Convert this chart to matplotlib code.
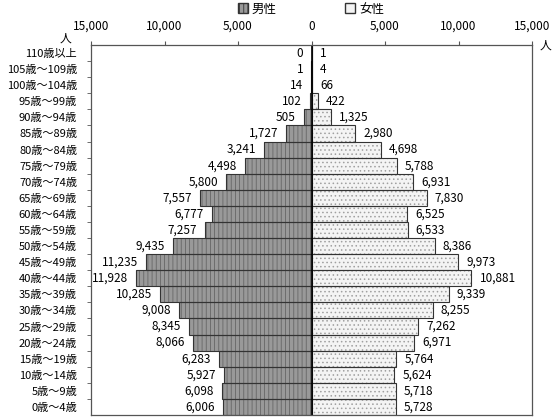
"""
Population pyramid by 5-year age group (male / female).
"""

import matplotlib
matplotlib.use("Agg")
import matplotlib.pyplot as plt
from matplotlib.patches import Patch

plt.rcParams["font.family"] = ["Noto Sans CJK JP", "DejaVu Sans"]
plt.rcParams["hatch.linewidth"] = 0.6

# top to bottom
age_groups = [
    "110歳以上", "105歳～109歳", "100歳～104歳", "95歳～99歳", "90歳～94歳",
    "85歳～89歳", "80歳～84歳", "75歳～79歳", "70歳～74歳", "65歳～69歳",
    "60歳～64歳", "55歳～59歳", "50歳～54歳", "45歳～49歳", "40歳～44歳",
    "35歳～39歳", "30歳～34歳", "25歳～29歳", "20歳～24歳", "15歳～19歳",
    "10歳～14歳", "5歳～9歳", "0歳～4歳",
]
male = [0, 1, 14, 102, 505, 1727, 3241, 4498, 5800, 7557, 6777, 7257, 9435,
        11235, 11928, 10285, 9008, 8345, 8066, 6283, 5927, 6098, 6006]
female = [1, 4, 66, 422, 1325, 2980, 4698, 5788, 6931, 7830, 6525, 6533, 8386,
          9973, 10881, 9339, 8255, 7262, 6971, 5764, 5624, 5718, 5728]
x_ticks = [-15000, -10000, -5000, 0, 5000, 10000, 15000]


def main():
    fig = plt.figure(figsize=(5.55, 4.18), dpi=100)
    ax = fig.add_axes([91 / 555, 3 / 418, 441 / 555, 370 / 418])

    pos = list(range(len(age_groups)))
    neg_male = [-v for v in male]

    # patterned fill, then dark outline on top
    ax.barh(pos, neg_male, height=1.0, color="#999999", edgecolor="#666666",
            hatch="||||", linewidth=0)
    ax.barh(pos, neg_male, height=1.0, fill=False, edgecolor="#333333", linewidth=0.8)
    ax.barh(pos, female, height=1.0, color="#f4f4f4", edgecolor="#a0a0a0",
            hatch="....", linewidth=0)
    ax.barh(pos, female, height=1.0, fill=False, edgecolor="#333333", linewidth=0.8)
    ax.axvline(0, color="black", linewidth=1.2)

    for p, m, f in zip(pos, male, female):
        ax.text(-m - 550, p, f"{m:,}", ha="right", va="center", fontsize=8.5)
        ax.text(f + 550, p, f"{f:,}", ha="left", va="center", fontsize=8.5)

    ax.set_xlim(-15000, 15000)
    ax.set_ylim(len(age_groups) - 0.5, -0.5)
    ax.xaxis.tick_top()
    ax.set_xticks(x_ticks)
    ax.set_xticklabels([f"{abs(v):,}" for v in x_ticks], fontsize=8.5)
    ax.set_yticks(pos)
    ax.set_yticklabels(age_groups, fontsize=8)
    ax.set_yticks([p + 0.5 for p in pos[:-1]], minor=True)
    ax.tick_params(axis="y", which="major", length=0, pad=10)
    ax.tick_params(axis="y", which="minor", length=3, direction="out", color="#555555")
    ax.tick_params(axis="x", length=3, direction="out", pad=6, color="#555555")
    for s in ax.spines.values():
        s.set_color("#555555")
        s.set_linewidth(0.9)

    fig.text(65 / 555, 1 - 38 / 418, "人", fontsize=8.5, ha="center", va="center")
    fig.text(545 / 555, 1 - 45 / 418, "人", fontsize=8.5, ha="center", va="center")

    handles = [
        Patch(facecolor="#999999", edgecolor="#333333", hatch="||||", label="男性"),
        Patch(facecolor="#f4f4f4", edgecolor="#333333", label="女性"),
    ]
    fig.legend(handles=handles, loc="center", bbox_to_anchor=(311 / 555, 1 - 9 / 418),
               ncol=2, frameon=False, fontsize=9, handlelength=0.8, handleheight=0.8,
               handletextpad=0.3, columnspacing=5.5, borderpad=0)

    fig.savefig("out.png", dpi=100)


if __name__ == "__main__":
    main()
